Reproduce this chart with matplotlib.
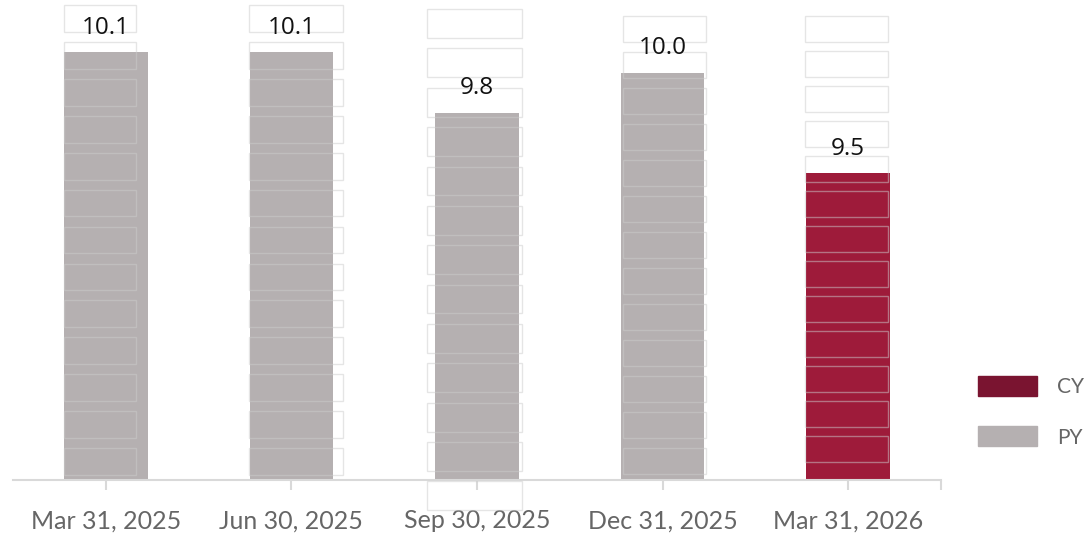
import numpy as np
import matplotlib.pyplot as plt
from matplotlib.patches import Rectangle, Patch
from matplotlib.transforms import blended_transform_factory

# Chart data
dates = ['Mar 31, 2025', 'Jun 30, 2025', 'Sep 30, 2025', 'Dec 31, 2025', 'Mar 31, 2026']
values = [10.1, 10.1, 9.8, 10.0, 9.5]
series = ['PY', 'PY', 'PY', 'PY', 'CY']

colors = {'CY': '#9e1b3a', 'PY': '#b5b0b1'}
legend_colors = {'CY': '#7a1430', 'PY': '#b5b0b1'}

fig = plt.figure(figsize=(10.86, 5.37), dpi=100)
ax = fig.add_axes([0.012, 0.1061, 0.8545, 0.8939])

x = np.arange(len(dates))
bar_colors = [colors[s] for s in series]
bars = ax.bar(x, values, width=0.45, color=bar_colors, zorder=2)

ax.set_xlim(-0.5, 4.5)
ax.set_ylim(7.98, 10.36)

# value labels above bars
for xi, v in zip(x, values):
    ax.annotate('%.1f' % v, (xi, v), xytext=(0, 13.5), textcoords='offset points',
                ha='center', va='baseline', fontsize=17.5, family='Open Sans',
                color='#111111', zorder=5)

# faint stacked boxes behind the labels (render artefact in the original)
# (center, width, top, box height, step) -- x in category units, y in axes fraction
ghosts = [(-0.03, 0.39, 0.990, 0.056, 0.077),
          (1.025, 0.51, 0.990, 0.056, 0.077),
          (1.987, 0.51, 0.981, 0.060, 0.082),
          (3.01, 0.45, 0.967, 0.054, 0.075),
          (3.99, 0.45, 0.967, 0.054, 0.073)]
trans = blended_transform_factory(ax.transData, ax.transAxes)
for cx, w, top, h, step in ghosts:
    for k in range(13):
        y0 = top - k * step - h
        ax.add_patch(Rectangle((cx - w / 2, y0), w, h, transform=trans, fill=False,
                               edgecolor=(0.8, 0.8, 0.8), alpha=0.5, linewidth=1.0,
                               zorder=3, clip_on=False))

# axis styling
for side in ['top', 'right', 'left']:
    ax.spines[side].set_visible(False)
ax.spines['bottom'].set_color('#d9d9d9')
ax.spines['bottom'].set_linewidth(1.5)
ax.set_yticks([])
ax.set_xticks(x)
ax.set_xticklabels(dates, fontsize=18, family='Lato', color='#666666')
ax.set_xticks([4.5], minor=True)
ax.tick_params(axis='x', which='both', length=7, width=1.5, color='#d9d9d9', pad=14)

# legend
handles = [Patch(color=legend_colors['CY'], label='CY'),
           Patch(color=legend_colors['PY'], label='PY')]
leg = fig.legend(handles=handles, loc='center left', bbox_to_anchor=(0.883, 0.233),
                 frameon=False, prop={'family': 'Lato', 'size': 15},
                 handlelength=2.85, handleheight=1.1, handletextpad=0.95,
                 labelspacing=1.4)
for t in leg.get_texts():
    t.set_color('#666666')

fig.savefig('out.png', dpi=100)
